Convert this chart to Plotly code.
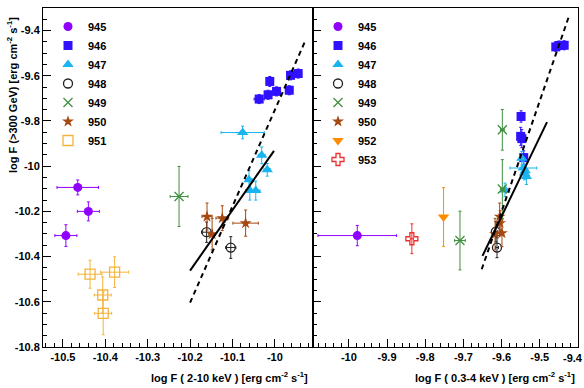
import plotly.graph_objects as go

# ---------------- data: left panel (2-10 keV) ----------------
L945_x = [-10.465, -10.440, -10.493]
L945_y = [-10.094, -10.200, -10.307]
L945_ex = [0.049, 0.026, 0.026]
L945_ey = [0.033, 0.042, 0.048]

L946_x = [-10.037, -10.016, -10.012, -9.996, -9.966, -9.963, -9.945]
L946_y = [-9.703, -9.684, -9.625, -9.669, -9.664, -9.598, -9.590]
L946_ex = [0.012, 0.008, 0.006, 0.008, 0.006, 0.006, 0.008]
L946_ey = [0.02, 0.02, 0.022, 0.02, 0.02, 0.02, 0.02]

L947_x = [-10.076, -10.031, -10.018, -10.061, -10.059, -10.045]
L947_y = [-9.851, -9.952, -10.016, -10.060, -10.108, -10.108]
L947_ex = [0.051, 0.008, 0.008, 0.008, 0.01, 0.01]
L947_ey = [0.028, 0.037, 0.028, 0.04, 0.042, 0.042]

L948_x = [-10.161, -10.104]
L948_y = [-10.292, -10.360]
L948_ex = [0.012, 0.012]
L948_ey = [0.045, 0.048]

L949_x = [-10.226]
L949_y = [-10.134]
L949_ex = [0.021]
L949_ey = [0.133]

L950_x = [-10.160, -10.124, -10.069, -10.148]
L950_y = [-10.223, -10.230, -10.252, -10.301]
L950_ex = [0.012, 0.015, 0.03, 0.008]
L950_ey = [0.06, 0.055, 0.058, 0.07]

L951_x = [-10.436, -10.378, -10.406, -10.405]
L951_y = [-10.478, -10.469, -10.570, -10.651]
L951_ex = [0.028, 0.033, 0.02, 0.02]
L951_ey = [0.062, 0.068, 0.08, 0.095]

L_fit_solid_x = [-10.2, -10.002]
L_fit_solid_y = [-10.462, -9.932]
L_fit_dash_x = [-10.2, -9.927]
L_fit_dash_y = [-10.604, -9.44]

# ---------------- data: right panel (0.3-4 keV) ----------------
R945_x = [-9.978]
R945_y = [-10.307]
R945_ex = [0.103]
R945_ey = [0.045]

R946_x = [-9.458, -9.450, -9.436, -9.549, -9.550, -9.547, -9.542]
R946_y = [-9.472, -9.466, -9.465, -9.780, -9.868, -9.878, -9.962]
R946_ex = [0.006, 0.006, 0.006, 0.004, 0.005, 0.005, 0.005]
R946_ey = [0.02, 0.02, 0.02, 0.025, 0.04, 0.04, 0.03]

R947_x = [-9.591, -9.543, -9.535, -9.547, -9.540, -9.538]
R947_y = [-10.105, -10.008, -10.046, -9.965, -10.030, -10.020]
R947_ex = [0.006, 0.035, 0.008, 0.006, 0.006, 0.006]
R947_ey = [0.03, 0.03, 0.035, 0.03, 0.03, 0.03]

R948_x = [-9.612, -9.615]
R948_y = [-10.360, -10.290]
R948_ex = [0.004, 0.004]
R948_ey = [0.045, 0.045]

R949_x = [-9.709, -9.598, -9.598]
R949_y = [-10.329, -9.839, -10.101]
R949_ex = [0.014, 0.005, 0.005]
R949_ey = [0.13, 0.09, 0.13]

R950_x = [-9.605, -9.604, -9.617, -9.599]
R950_y = [-10.223, -10.252, -10.301, -10.296]
R950_ex = [0.004, 0.004, 0.004, 0.004]
R950_ey = [0.06, 0.055, 0.07, 0.06]

R952_x = [-9.752]
R952_y = [-10.225]
R952_ex = [0.003]
R952_ey = [0.13]

R953_x = [-9.835]
R953_y = [-10.321]
R953_ex = [0.004]
R953_ey = [0.066]

R_fit_solid_x = [-9.650, -9.481]
R_fit_solid_y = [-10.397, -9.805]
R_fit_dash_x = [-9.652, -9.424]
R_fit_dash_y = [-10.456, -9.339]

# ---------------- ticks ----------------
y_tickvals = [-10.8, -10.6, -10.4, -10.2, -10.0, -9.8, -9.6, -9.4]
y_ticktext = ["-10.8", "-10.6", "-10.4", "-10.2", "-10", "-9.8", "-9.6", "-9.4"]
xL_tickvals = [-10.5, -10.4, -10.3, -10.2, -10.1, -10.0]
xL_ticktext = ["-10.5", "-10.4", "-10.3", "-10.2", "-10.1", "-10"]
xR_tickvals = [-10.0, -9.9, -9.8, -9.7, -9.6, -9.5, -9.4]
xR_ticktext = ["-10", "-9.9", "-9.8", "-9.7", "-9.6", "-9.5", "-9.4"]

# ---------------- styles ----------------
FONT = "Liberation Sans"
C945 = "#8f00ff"
C946 = "#2f10ff"
C947 = "#1ab4f0"
C948 = "#222222"
C949 = "#3f8f3f"
C950 = "#a64812"
C951 = "#f5b33a"
C952 = "#ff8c00"
C953 = "#ee3030"

STYLE = {
    "945": dict(color=C945, symbol="circle", size=9, open=False),
    "946": dict(color=C946, symbol="square", size=9, open=False),
    "947": dict(color=C947, symbol="triangle-up", size=10, open=False),
    "948": dict(color=C948, symbol="circle-open", size=9, open=True),
    "949": dict(color=C949, symbol="x-thin-open", size=9, open=True),
    "950": dict(color=C950, symbol="star", size=9, open=False),
    "951": dict(color=C951, symbol="square-open", size=10, open=True),
    "952": dict(color=C952, symbol="triangle-down", size=10, open=False),
    "953": dict(color=C953, symbol="cross-open", size=10, open=True),
}

fig = go.Figure()


def add_series(name, x, y, ex, ey, xa, ya, legend):
    st = STYLE[name]
    marker = dict(symbol=st["symbol"], size=st["size"], color=st["color"],
                  line=dict(color=st["color"], width=1.3 if st["open"] else 0))
    fig.add_trace(go.Scatter(
        x=x, y=y, mode="markers", name=name, marker=marker,
        error_x=dict(type="data", array=ex, color=st["color"], thickness=1, width=1.5),
        error_y=dict(type="data", array=ey, color=st["color"], thickness=1, width=1.5),
        xaxis=xa, yaxis=ya, legend=legend, showlegend=True))


add_series("945", L945_x, L945_y, L945_ex, L945_ey, "x", "y", "legend")
add_series("946", L946_x, L946_y, L946_ex, L946_ey, "x", "y", "legend")
add_series("947", L947_x, L947_y, L947_ex, L947_ey, "x", "y", "legend")
add_series("948", L948_x, L948_y, L948_ex, L948_ey, "x", "y", "legend")
add_series("949", L949_x, L949_y, L949_ex, L949_ey, "x", "y", "legend")
add_series("950", L950_x, L950_y, L950_ex, L950_ey, "x", "y", "legend")
add_series("951", L951_x, L951_y, L951_ex, L951_ey, "x", "y", "legend")

add_series("945", R945_x, R945_y, R945_ex, R945_ey, "x2", "y2", "legend2")
add_series("946", R946_x, R946_y, R946_ex, R946_ey, "x2", "y2", "legend2")
add_series("947", R947_x, R947_y, R947_ex, R947_ey, "x2", "y2", "legend2")
add_series("948", R948_x, R948_y, R948_ex, R948_ey, "x2", "y2", "legend2")
add_series("949", R949_x, R949_y, R949_ex, R949_ey, "x2", "y2", "legend2")
add_series("950", R950_x, R950_y, R950_ex, R950_ey, "x2", "y2", "legend2")
add_series("952", R952_x, R952_y, R952_ex, R952_ey, "x2", "y2", "legend2")
add_series("953", R953_x, R953_y, R953_ex, R953_ey, "x2", "y2", "legend2")

for xs, ys, dash, xa, ya in [
    (L_fit_solid_x, L_fit_solid_y, "solid", "x", "y"),
    (L_fit_dash_x, L_fit_dash_y, "5px,4px", "x", "y"),
    (R_fit_solid_x, R_fit_solid_y, "solid", "x2", "y2"),
    (R_fit_dash_x, R_fit_dash_y, "5px,4px", "x2", "y2"),
]:
    fig.add_trace(go.Scatter(x=xs, y=ys, mode="lines",
                             line=dict(color="black", width=2, dash=dash),
                             xaxis=xa, yaxis=ya, showlegend=False, hoverinfo="skip"))

W, H = 584, 388
tickfont = dict(family=FONT, size=11, color="black", weight="bold")
common = dict(showline=True, linecolor="black", linewidth=1, mirror=True,
              ticks="inside", ticklen=8, tickwidth=1, tickcolor="black",
              showgrid=False, zeroline=False, automargin=False, tickfont=tickfont)

ydom = [1 - 347 / H, 1 - 8 / H]
legend_font = dict(family=FONT, size=11, color="black", weight="bold")
# last right-panel label sits on the page edge: draw it as right-aligned text
xR_axis_text = xR_ticktext[:-1] + [""]
fig.update_layout(
    width=W, height=H,
    margin=dict(l=0, r=0, t=0, b=0),
    paper_bgcolor="white", plot_bgcolor="white",
    xaxis=dict(domain=[43 / W, 313 / W], range=[-10.547, -9.91], anchor="y",
               tickmode="array", tickvals=xL_tickvals, ticktext=xL_ticktext,
               minor=dict(tickmode="linear", dtick=0.02, tick0=0, ticks="inside",
                          ticklen=4, tickcolor="black"), **common),
    yaxis=dict(domain=ydom, range=[-10.8001, -9.3], anchor="x",
               tickmode="array", tickvals=y_tickvals, ticktext=y_ticktext,
               minor=dict(tickmode="linear", dtick=0.05, tick0=0, ticks="inside",
                          ticklen=4, tickcolor="black"), **common),
    xaxis2=dict(domain=[313 / W, 578 / W], range=[-10.094, -9.3998], anchor="y2",
                tickmode="array", tickvals=xR_tickvals, ticktext=xR_axis_text,
                minor=dict(tickmode="linear", dtick=0.02, tick0=0, ticks="inside",
                           ticklen=4, tickcolor="black"), **common),
    yaxis2=dict(domain=ydom, range=[-10.8001, -9.3], anchor="x2", showticklabels=False,
                tickmode="array", tickvals=y_tickvals, ticktext=y_ticktext,
                minor=dict(tickmode="linear", dtick=0.05, tick0=0, ticks="inside",
                           ticklen=4, tickcolor="black"), **common),
    legend=dict(x=48 / W, y=1 - 12 / H, xanchor="left", yanchor="top",
                bgcolor="rgba(0,0,0,0)", itemwidth=30, tracegroupgap=0,
                itemsizing="trace", font=legend_font),
    legend2=dict(x=318 / W, y=1 - 12 / H, xanchor="left", yanchor="top",
                 bgcolor="rgba(0,0,0,0)", itemwidth=30, tracegroupgap=0,
                 itemsizing="trace", font=legend_font),
    showlegend=True,
)

fig.add_annotation(text=xR_ticktext[-1], x=1.0, y=1 - 358 / H, xref="paper", yref="paper",
                   showarrow=False, xanchor="right", yanchor="middle",
                   font=tickfont, borderpad=0)

ann_font = dict(family=FONT, size=11, color="black", weight="bold")
fig.add_annotation(text="log F (>300 GeV) [erg cm<sup>-2</sup> s<sup>-1</sup>]",
                   x=12 / W, y=1 - 95 / H, xref="paper", yref="paper",
                   textangle=-90, showarrow=False, xanchor="center", yanchor="middle",
                   font=ann_font)
fig.add_annotation(text="log F ( 2-10 keV ) [erg cm<sup>-2</sup> s<sup>-1</sup>]",
                   x=310 / W, y=1 - 377 / H, xref="paper", yref="paper",
                   showarrow=False, xanchor="right", yanchor="middle", font=ann_font)
fig.add_annotation(text="log F ( 0.3-4 keV ) [erg cm<sup>-2</sup> s<sup>-1</sup>]",
                   x=577 / W, y=1 - 377 / H, xref="paper", yref="paper",
                   showarrow=False, xanchor="right", yanchor="middle", font=ann_font)

fig.write_html("out.html")
